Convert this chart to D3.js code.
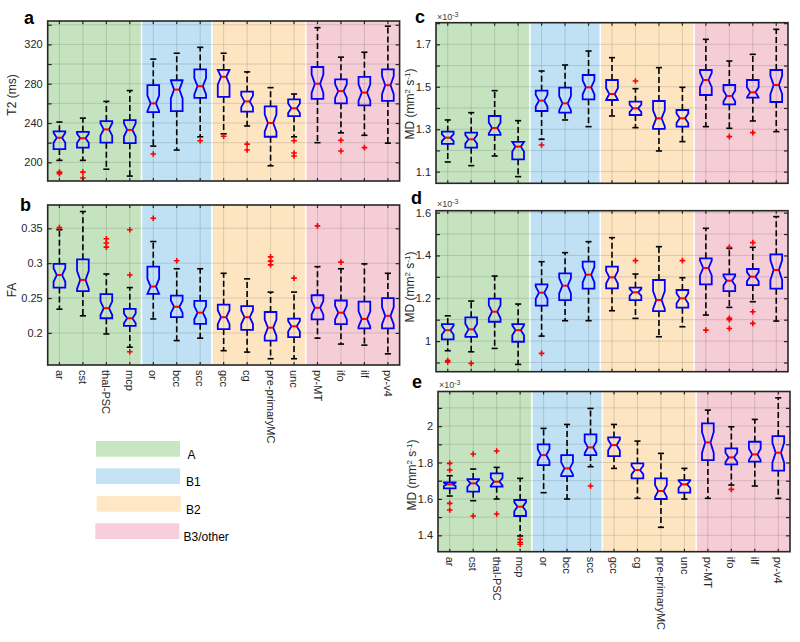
<!DOCTYPE html>
<html><head><meta charset="utf-8">
<script src="https://cdn.jsdelivr.net/npm/d3@7/dist/d3.min.js"></script>
<style>
body{margin:0;background:#fff}
svg{display:block}
text{font-family:"Liberation Sans",Arial,Helvetica,sans-serif}
</style>
</head><body>
<svg id="chart" width="800" height="642"></svg>
<script>
// ---------------- data ----------------
const categories = ["ar","cst","thal-PSC","mcp","or","bcc","scc","gcc","cg","pre-primaryMC","unc","pv-MT","ifo","ilf","pv-v4"];
const groupNames = ["A","B1","B2","B3/other"];
const groupSizes = [4,3,4,4];
const groupColors = ["#c6e3bf","#bfe1f3","#fde5c1","#f5cdd7"];
const legendColors = ["#c9e6c3","#c3e3f5","#fde7c4","#f7ced9"];
const nSubjects = 30; // used for notch size (MATLAB: 1.57*IQR/sqrt(n))

// Panel a: T2 (ms)
const t2Low  = [202,202,193,186,216.5,212.5,226,229,237,196.5,226,220,230,227.5,219.5];
const t2Q1   = [213.5,215,220,219.5,251,252,265.5,266.5,251.5,226,247,264.5,260,258,262.5];
const t2Med  = [225,224.5,233.5,233,260,274,277.5,287,262,240,255,280,272.5,271,278.5];
const t2Q3   = [231.5,231,242,243,278.5,283.5,294.5,294,272,257,264,297,284.5,287,294.5];
const t2High = [241,245,262,273,305,311,317,311,292,276,269.5,337,307,312,338.5];
const t2Out  = [[190,188.5],[190,184],[],[],[208.5],[],[222],[226.5],[218.5,212.5],[],[222,209.5,206.5],[],[222.5,211.5],[215],[]];
const t2Ticks = [180,200,220,240,260,280,300,320,340];
const t2Labels = [200,240,280,320];

// Panel b: FA
const faLow  = [.234,.2245,.1985,.1795,.22,.189,.1925,.1745,.1725,.163,.163,.1925,.184,.1825,.17];
const faQ1   = [.265,.26,.221,.21,.256,.2225,.213,.2055,.2045,.189,.194,.2195,.2125,.2065,.2065];
const faMed  = [.283,.276,.2355,.221,.2665,.2375,.229,.2225,.2225,.2075,.2095,.236,.229,.22,.2245];
const faQ3   = [.299,.3055,.2555,.2345,.295,.2535,.246,.2405,.2385,.23,.2205,.254,.2465,.245,.25];
const faHigh = [.348,.374,.2845,.265,.331,.292,.292,.2855,.2775,.2585,.2585,.295,.292,.299,.2855];
const faOut  = [[.351],[],[.335,.329,.323],[.348,.283,.173],[.3645],[.3035],[],[],[],[.309,.303,.2975],[.2785],[.3535],[.3015],[],[]];
const faTicks = [0.2,0.25,0.3,0.35];
const faLabels = [0.2,0.25,0.3,0.35];

// Panel c: MD (x10^-3)
const mdcLow  = [1.1456,1.1283,1.1738,1.0765,1.2524,1.3435,1.3121,1.3623,1.3073,1.1974,1.2414,1.3121,1.3042,1.3388,1.2885];
const mdcQ1   = [1.2304,1.2131,1.2728,1.1581,1.3859,1.378,1.4408,1.4377,1.367,1.3011,1.3121,1.4613,1.4173,1.4487,1.4283];
const mdcMed  = [1.2602,1.2524,1.3058,1.2178,1.4346,1.422,1.4974,1.466,1.3984,1.3513,1.3513,1.5319,1.4566,1.4738,1.5084];
const mdcQ3   = [1.2885,1.2838,1.3623,1.2398,1.4817,1.4958,1.5555,1.5319,1.4299,1.433,1.3906,1.5791,1.5084,1.5319,1.5791];
const mdcHigh = [1.3435,1.378,1.4817,1.3403,1.5744,1.6026,1.6686,1.6372,1.4911,1.5901,1.4974,1.7236,1.6215,1.6529,1.7707];
const mdcOut  = [[],[],[],[],[1.2257],[],[],[],[1.5272],[],[],[],[1.2649],[1.2838],[]];
const mdcTicks = [1.1,1.2,1.3,1.4,1.5,1.6,1.7,1.8];
const mdcLabels = [1.1,1.3,1.5,1.7];

// Panel d: MD (x10^-3)
const mddLow  = [0.955,0.95,0.9657,0.891,1.0234,1.0951,1.0951,1.1418,1.106,1.0203,1.067,1.1216,1.1574,1.1839,1.0935];
const mddQ1   = [1.008,1.02,1.0904,0.997,1.1652,1.1917,1.2447,1.2462,1.1917,1.1403,1.1559,1.265,1.2338,1.2618,1.2447];
const mddMed  = [1.051,1.0547,1.1372,1.051,1.226,1.2587,1.3101,1.2977,1.2276,1.1917,1.1995,1.3413,1.2821,1.3008,1.332];
const mddQ3   = [1.079,1.111,1.1979,1.079,1.265,1.3164,1.3709,1.3475,1.2494,1.2852,1.2385,1.3865,1.3117,1.3366,1.4052];
const mddHigh = [1.118,1.187,1.3039,1.173,1.3709,1.413,1.4644,1.4831,1.3133,1.441,1.2961,1.5268,1.4333,1.4379,1.5813];
const mddOut  = [[0.909,0.903],[0.896],[],[],[0.9424],[],[],[],[1.3756],[],[1.3756],[1.0514],[1.438,1.107,1.100,1.059],[1.4597,1.1372,1.0826],[]];
const mddTicks = [0.9,1.0,1.1,1.2,1.3,1.4,1.5,1.6];
const mddLabels = [1.0,1.2,1.4,1.6];

// Panel e: MD (x10^-3)
const mdeLow  = [1.6159,1.5903,1.5994,1.3964,1.6342,1.5994,1.7768,1.7677,1.6031,1.4439,1.5994,1.6031,1.6762,1.6708,1.6031];
const mdeQ1   = [1.658,1.6397,1.6671,1.5061,1.786,1.7256,1.8409,1.8354,1.7128,1.5994,1.6342,1.8134,1.7896,1.8043,1.7549];
const mdeMed  = [1.6799,1.6854,1.6945,1.5573,1.8409,1.7677,1.8829,1.8957,1.7585,1.6433,1.6799,1.9104,1.8281,1.8445,1.8537];
const mdeQ3   = [1.6909,1.7092,1.7403,1.5939,1.8994,1.8409,1.9543,1.9378,1.7951,1.7128,1.7037,2.0146,1.8774,1.914,1.9451];
const mdeHigh = [1.7275,1.764,1.7732,1.7128,1.9872,2.0091,2.0969,2.0091,1.9177,1.85,1.7677,2.0878,1.9963,2.0366,2.1555];
const mdeOut  = [[1.7951,1.7585,1.5756,1.539],[1.8463,1.5061],[1.8628,1.5171],[1.378,1.362,1.351],[],[],[1.6708],[],[],[],[],[],[1.6525],[],[]];
const mdeTicks = [1.4,1.5,1.6,1.7,1.8,1.9,2.0,2.1];
const mdeLabels = [1.4,1.6,1.8,2.0];

// ---------------- drawing ----------------
const svg = d3.select("#chart");
const mdLabel = [["MD (mm",0],["2",1],[" s",0],["-1",1],[")",0]];

const panels = [
  {letter:"a", x0:47.7, x1:399.6, y0:21,    y1:181,   dom:[181,343.8], lo:t2Low, q1:t2Q1, med:t2Med, q3:t2Q3, hi:t2High, out:t2Out, ticks:t2Ticks, labels:t2Labels, fmt:d3.format("d"), ylab:[["T2 (ms)",0]], ylabX:16, ylabY:95, lx:24, ly:24, xlabels:false, sci:false},
  {letter:"b", x0:47.7, x1:399.6, y0:205,   y1:365,   dom:[0.154,0.3834], lo:faLow, q1:faQ1, med:faMed, q3:faQ3, hi:faHigh, out:faOut, ticks:faTicks, labels:faLabels, fmt:d => String(+d.toFixed(2)), ylab:[["FA",0]], ylabX:16, ylabY:290, lx:20, ly:211, xlabels:true, sci:false},
  {letter:"c", x0:436,  x1:788,   y0:22.7,  y1:183.3, dom:[1.045,1.802], lo:mdcLow, q1:mdcQ1, med:mdcMed, q3:mdcQ3, hi:mdcHigh, out:mdcOut, ticks:mdcTicks, labels:mdcLabels, fmt:d => String(+d.toFixed(1)), ylab:mdLabel, ylabX:414, ylabY:104, lx:415, ly:23, xlabels:false, sci:true, sciY:19.5},
  {letter:"d", x0:436,  x1:788,   y0:210.7, y1:371.7, dom:[0.857,1.609], lo:mddLow, q1:mddQ1, med:mddMed, q3:mddQ3, hi:mddHigh, out:mddOut, ticks:mddTicks, labels:mddLabels, fmt:d => String(+d.toFixed(1)), ylab:mdLabel, ylabX:414, ylabY:287, lx:411, ly:203.5, xlabels:false, sci:true, sciY:207},
  {letter:"e", x0:438,  x1:790,   y0:391.5, y1:551.7, dom:[1.31,2.19], lo:mdeLow, q1:mdeQ1, med:mdeMed, q3:mdeQ3, hi:mdeHigh, out:mdeOut, ticks:mdeTicks, labels:mdeLabels, fmt:d => String(+d.toFixed(1)), ylab:mdLabel, ylabX:416, ylabY:475, lx:412, ly:387.5, xlabels:true, sci:true, sciY:388}
];

// group boundaries (index ranges)
const groupStarts = [];
{ let s = 0; groupSizes.forEach(n => { groupStarts.push(s); s += n; }); }

panels.forEach(p => {
  const g = svg.append("g");
  const x = d3.scaleBand().domain(categories).range([p.x0, p.x1]).paddingInner(0).paddingOuter(0);
  const step = x.bandwidth();
  const cx = c => x(c) + step / 2;
  const y = d3.scaleLinear().domain(p.dom).range([p.y1, p.y0]);

  // background bands
  groupSizes.forEach((n, gi) => {
    const first = categories[groupStarts[gi]];
    const xa = x(first);
    const xb = xa + n * step;
    g.append("rect")
      .attr("x", xa).attr("y", p.y0).attr("width", xb - xa).attr("height", p.y1 - p.y0)
      .attr("fill", groupColors[gi]);
    if (gi > 0) {
      g.append("line").attr("x1", xa).attr("x2", xa).attr("y1", p.y0).attr("y2", p.y1)
        .attr("stroke", "#fff").attr("stroke-width", 1.5);
    }
  });

  // grid
  const grid = g.append("g").attr("stroke", "#000").attr("stroke-opacity", 0.13).attr("stroke-width", 1);
  p.ticks.filter(t => y(t) > p.y0 + 0.5 && y(t) < p.y1 - 0.5).forEach(t => {
    grid.append("line").attr("x1", p.x0).attr("x2", p.x1).attr("y1", y(t)).attr("y2", y(t));
  });
  categories.forEach(c => {
    grid.append("line").attr("x1", cx(c)).attr("x2", cx(c)).attr("y1", p.y0).attr("y2", p.y1);
  });

  // boxes
  const hw = step * 0.25, nw = hw * 0.45, cw = step * 0.13;
  categories.forEach((c, i) => {
    const xc = cx(c);
    const q1 = p.q1[i], q3 = p.q3[i], md = p.med[i];
    const notch = 1.57 * (q3 - q1) / Math.sqrt(nSubjects);
    const nlo = Math.max(q1, md - notch), nhi = Math.min(q3, md + notch);
    // whiskers
    const wg = g.append("g").attr("stroke", "#000").attr("stroke-width", 1.6);
    wg.append("line").attr("x1", xc).attr("x2", xc).attr("y1", y(q3)).attr("y2", y(p.hi[i])).attr("stroke-dasharray", "6,3");
    wg.append("line").attr("x1", xc).attr("x2", xc).attr("y1", y(q1)).attr("y2", y(p.lo[i])).attr("stroke-dasharray", "6,3");
    wg.append("line").attr("x1", xc - cw).attr("x2", xc + cw).attr("y1", y(p.hi[i])).attr("y2", y(p.hi[i]));
    wg.append("line").attr("x1", xc - cw).attr("x2", xc + cw).attr("y1", y(p.lo[i])).attr("y2", y(p.lo[i]));
    // notched box
    const path = d3.path();
    path.moveTo(xc - hw, y(q1));
    path.lineTo(xc - hw, y(nlo));
    path.lineTo(xc - nw, y(md));
    path.lineTo(xc - hw, y(nhi));
    path.lineTo(xc - hw, y(q3));
    path.lineTo(xc + hw, y(q3));
    path.lineTo(xc + hw, y(nhi));
    path.lineTo(xc + nw, y(md));
    path.lineTo(xc + hw, y(nlo));
    path.lineTo(xc + hw, y(q1));
    path.closePath();
    g.append("path").attr("d", path.toString()).attr("fill", "none")
      .attr("stroke", "#0000ff").attr("stroke-width", 1.8).attr("stroke-linejoin", "miter");
    // median
    g.append("line").attr("x1", xc - nw).attr("x2", xc + nw).attr("y1", y(md)).attr("y2", y(md))
      .attr("stroke", "#ff0000").attr("stroke-width", 2);
    // outliers
    p.out[i].forEach(v => {
      const yy = y(v), s = 2.8;
      g.append("path").attr("d", `M${xc - s},${yy}H${xc + s}M${xc},${yy - s}V${yy + s}`)
        .attr("stroke", "#ff0000").attr("stroke-width", 1.6).attr("fill", "none");
    });
  });

  // axes (ticks inward on all four sides)
  const axColor = "#262626";
  const left = g.append("g").attr("transform", `translate(${p.x0},0)`)
    .call(d3.axisLeft(y).tickValues(p.ticks.filter(t => t >= p.dom[0] && t <= p.dom[1]))
      .tickSize(-4).tickPadding(5)
      .tickFormat(d => p.labels.some(l => Math.abs(l - d) < 1e-9) ? p.fmt(d) : ""));
  const right = g.append("g").attr("transform", `translate(${p.x1},0)`)
    .call(d3.axisRight(y).tickValues(p.ticks.filter(t => t >= p.dom[0] && t <= p.dom[1])).tickSize(-4).tickFormat(""));
  const top = g.append("g").attr("transform", `translate(0,${p.y0})`)
    .call(d3.axisTop(x).tickSize(-3).tickFormat(""));
  const bottom = g.append("g").attr("transform", `translate(0,${p.y1})`)
    .call(d3.axisBottom(x).tickSize(-3).tickPadding(5).tickFormat(p.xlabels ? (d => d) : ""));
  [left, right, top, bottom].forEach(a => {
    a.select(".domain").remove();
    a.selectAll(".tick line").attr("stroke", axColor).attr("stroke-width", 1.2);
    a.selectAll(".tick text").attr("fill", axColor).style("font-size", "11px")
      .style("font-family", '"Liberation Sans",Arial,Helvetica,sans-serif');
  });
  if (p.xlabels) {
    bottom.selectAll(".tick text")
      .attr("transform", "rotate(90)")
      .attr("text-anchor", "start")
      .attr("x", 5).attr("y", 0).attr("dy", "0.35em");
  }
  // frame
  g.append("rect").attr("x", p.x0).attr("y", p.y0).attr("width", p.x1 - p.x0).attr("height", p.y1 - p.y0)
    .attr("fill", "none").attr("stroke", axColor).attr("stroke-width", 1.6);

  // y label
  const yl = g.append("text")
    .attr("transform", `translate(${p.ylabX},${p.ylabY}) rotate(-90)`)
    .attr("text-anchor", "middle").attr("fill", axColor).style("font-size", "12px");
  p.ylab.forEach(([t, sup]) => {
    const ts = yl.append("tspan").text(t);
    if (sup) ts.attr("baseline-shift", "super").style("font-size", "8px");
  });

  // panel letter
  g.append("text").attr("x", p.lx).attr("y", p.ly).text(p.letter)
    .attr("fill", "#000").style("font-size", "18px").style("font-weight", "bold");

  // x10^-3 multiplier
  if (p.sci) {
    const st = g.append("text").attr("x", p.x0 + 1).attr("y", p.sciY).attr("fill", "#404040").style("font-size", "9px");
    st.append("tspan").text("\u00d710");
    st.append("tspan").text("-3").attr("baseline-shift", "super").style("font-size", "7px");
  }
});

// legend
const legTops = [441, 468.3, 496, 523.3];
const legX = [96, 96, 96.7, 95.3];
groupNames.forEach((name, i) => {
  svg.append("rect").attr("x", legX[i]).attr("y", legTops[i]).attr("width", 84).attr("height", 15.7)
    .attr("fill", legendColors[i]);
  svg.append("text").attr("x", 186 - (i === 3 ? 2.5 : 0) + (i === 0 ? 1.5 : 0)).attr("y", legTops[i] + 18)
    .text(name).attr("fill", "#000").style("font-size", "12px");
});
</script>
</body></html>
